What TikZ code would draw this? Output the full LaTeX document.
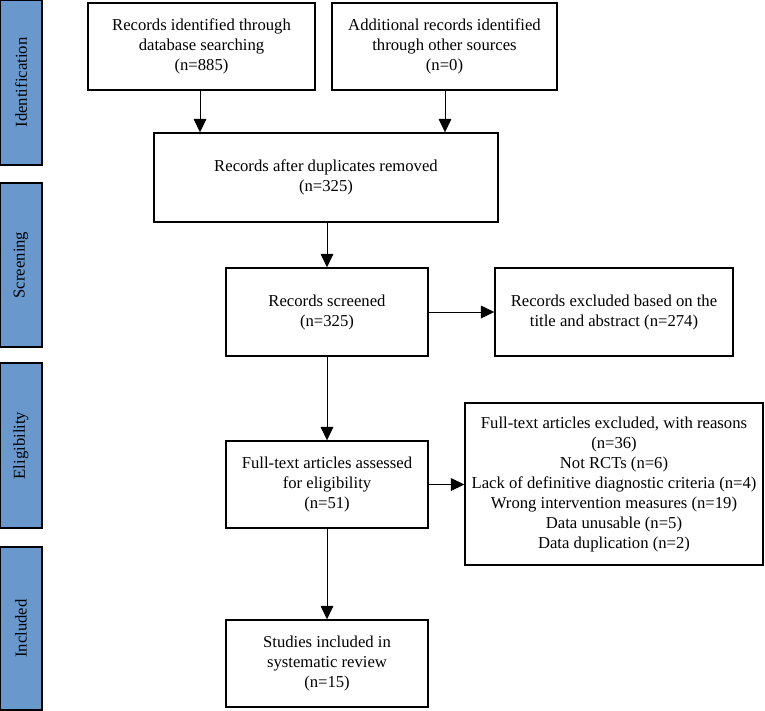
\documentclass[tikz,border=0pt]{standalone}
\usepackage{fontspec}
\setmainfont{Liberation Serif}
\usetikzlibrary{arrows.meta, positioning}
\definecolor{stageblue}{RGB}{104,152,204}
\tikzset{->,  % every connector is directed
	>={Triangle[length=10pt,width=9.5pt]}, % solid black heads
	line width=1pt,
	box/.style={draw, line width=1.1pt, -, fill=white, align=center,
		font=\fontsize{12.5}{15}\selectfont, inner sep=2pt}, % white boxes of the flow
	stage/.style={draw, line width=1.6pt, -, fill=stageblue, rotate=90,
		font=\fontsize{12.5}{15}\selectfont, minimum height=31.5pt}, % blue bars on the left
}

\begin{document}
\begin{tikzpicture}[x=0.75pt, y=-0.75pt]
	\useasboundingbox (0,0) rectangle (765,711);
	% stages on the left
	\node[stage, minimum width=123.75pt] (Ident) at (21,82.5) {Identification};
	\node[stage, minimum width=123pt] (Screen) at (21,265) {Screening};
	\node[stage, minimum width=123.75pt] (Elig) at (21,445.5) {Eligibility};
	\node[stage, minimum width=122.25pt] (Incl) at (21,628.5) {Included};
	% Identification
	\node[box, minimum width=170.25pt, minimum height=65.25pt] (Database) at (201.5,46.5)
		{Records identified through\\database searching\\(n=885)};
	\node[box, minimum width=168.75pt, minimum height=65.25pt] (Other) at (444.5,46.5)
		{Additional records identified\\through other sources\\(n=0)};
	\node[box, minimum width=258pt, minimum height=66.75pt] (Dedup) at (326,177.5)
		{Records after duplicates removed\\(n=325)};
	\draw (Database.south -| 200,0) -- (Dedup.north -| 200,0);
	\draw (Other.south -| 445,0) -- (Dedup.north -| 445,0);
	%% Screening
	\node[box, minimum width=151.5pt, minimum height=66pt] (Screened) at (327,312)
		{Records screened\\(n=325)};
	\node[box, minimum width=178.5pt, minimum height=66pt] (Excluded) at (614,312)
		{Records excluded based on the\\title and abstract (n=274)};
	\draw (Dedup.south -| Screened) -- (Screened);
	\draw (Screened) -- (Excluded);
	%% Eligibility
	\node[box, minimum width=151.5pt, minimum height=65.25pt] (Assessed) at (327,484.5)
		{Full-text articles assessed\\for eligibility\\(n=51)};
	\node[box, minimum width=223.5pt, minimum height=121.5pt] (Reasons) at (614,484)
		{Full-text articles excluded, with reasons\\(n=36)\\Not RCTs (n=6)\\
		Lack of definitive diagnostic criteria (n=4)\\Wrong intervention measures (n=19)\\
		Data unusable (n=5)\\Data duplication (n=2)};
	\draw (Screened) -- (Assessed);
	\draw (Assessed.east) -- (Reasons.west |- Assessed.east);
	%% Included
	\node[box, minimum width=151.5pt, minimum height=65.25pt] (Included) at (327,663.5)
		{Studies included in\\systematic review\\(n=15)};
	\draw (Assessed) -- (Included);
\end{tikzpicture}
\end{document}
